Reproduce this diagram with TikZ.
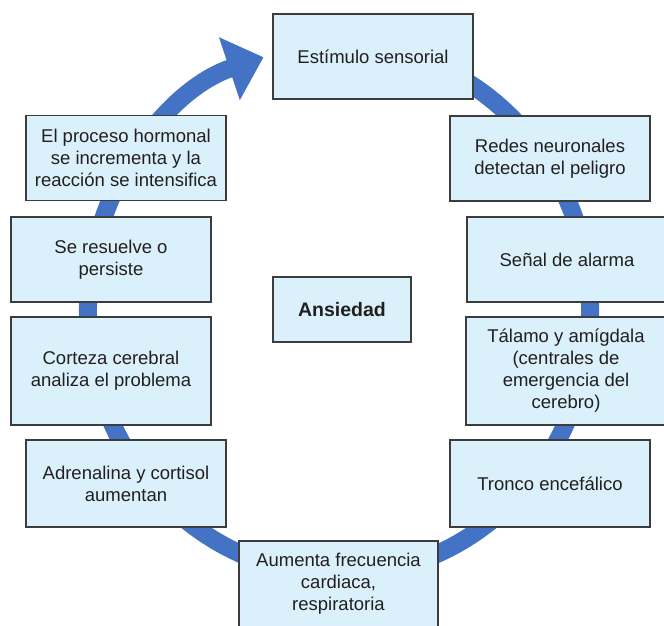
\documentclass[tikz,border=0pt]{standalone}
\usepackage{fontspec}
\setmainfont{Liberation Sans}
\usetikzlibrary{arrows.meta}
\definecolor{boxfill}{RGB}{218,241,251}
\definecolor{boxline}{RGB}{60,60,60}
\definecolor{ringblue}{RGB}{68,114,196}
\definecolor{txt}{RGB}{35,31,32}
\begin{document}
\begin{tikzpicture}[x=1pt,y=1pt,
  stage/.style={draw=boxline, line width=1.3pt, fill=boxfill, text=txt,
    minimum width=200pt, minimum height=85pt, align=center, inner sep=0pt,
    font=\fontsize{18.5}{22}\selectfont},
  ring/.style={draw=ringblue, line width=18pt,
    -{Triangle[width=64pt,length=36pt]}}]
\useasboundingbox (0,0) rectangle (664,626);
\coordinate (c) at (339,316);
\draw[ring] (c) ++(80:251 and 265) arc[start angle=80, end angle=-252.5, x radius=251, y radius=265];
\node[stage] (s1) at (373,569.5) {Estímulo sensorial};
\node[stage] (s2) at (550,467.5) {Redes neuronales\\detectan el peligro};
\node[stage] (s3) at (567,366.5) {Señal de alarma};
\node[stage, minimum height=108pt] (s4) at (566,255) {Tálamo y amígdala\\(centrales de\\emergencia del\\cerebro)};
\node[stage, minimum height=87pt] (s5) at (550,142.5) {Tronco encefálico};
\node[stage, minimum width=199pt, minimum height=86pt] (s6) at (338.5,42) {Aumenta frecuencia\\cardiaca,\\respiratoria};
\node[stage, minimum height=87pt] (s7) at (126,142.5) {Adrenalina y cortisol\\aumentan};
\node[stage, minimum height=108pt] (s8) at (111,255) {Corteza cerebral\\analiza el problema};
\node[stage] (s9) at (111,366.5) {Se resuelve o\\persiste};
\node[stage] (s10) at (126,468) {El proceso hormonal\\se incrementa y la\\reacción se intensifica};
\node[stage, minimum width=138pt, minimum height=65pt, font=\fontsize{19.5}{23}\selectfont\bfseries] (a) at (342,316.5) {Ansiedad};
\end{tikzpicture}
\end{document}
